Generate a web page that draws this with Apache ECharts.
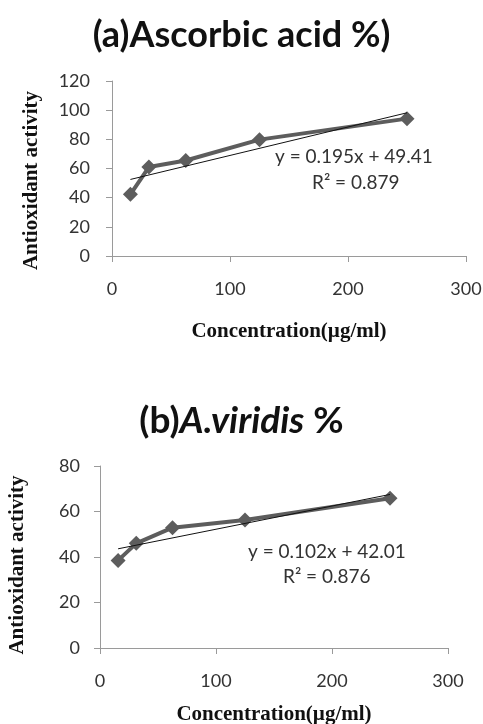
<!DOCTYPE html>
<html>
<head>
<meta charset="utf-8">
<script src="https://cdn.jsdelivr.net/npm/echarts@6/dist/echarts.min.js"></script>
<style>
  html, body { margin: 0; padding: 0; background: #fff; }
  #chart { width: 483px; height: 724px; }
</style>
</head>
<body>
<div id="chart"></div>
<script>
// concentrations (ug/ml) shared by both panels
var conc = [15.6, 31.25, 62.5, 125, 250];

// (a) ascorbic acid
var ascorbic = [42.3, 61, 65.5, 79.8, 94.2];
var trendA = [[15.6, 52.5], [250, 98.2]];

// (b) A. viridis
var viridis = [38.5, 46, 52.9, 56.3, 65.8];
var trendB = [[15.6, 43.6], [250, 67.5]];

var myChart = echarts.init(document.getElementById('chart'));

var labelFont = 'Lato';
var serif = '"Liberation Serif"';

function pairs(xs, ys) {
    return xs.map(function (x, i) { return [x, ys[i]]; });
}

function xAxisCfg(gridIndex, gap) {
    return {
        type: 'value', gridIndex: gridIndex,
        min: 0, max: 300, interval: 100,
        name: 'Concentration(µg/ml)', nameLocation: 'middle', nameGap: gap,
        nameTextStyle: { fontFamily: serif, fontWeight: 'bold', fontSize: 21, color: '#111' },
        axisLine: { lineStyle: { color: '#9a9a9a' } },
        axisTick: { show: true, length: 6, lineStyle: { color: '#9a9a9a' } },
        axisLabel: { margin: 24, fontFamily: labelFont, fontSize: 18, color: '#333' },
        splitLine: { show: false }
    };
}

function yAxisCfg(gridIndex, max, gap, margin, shift) {
    return {
        type: 'value', gridIndex: gridIndex,
        min: 0, max: max, interval: 20,
        name: 'Antioxidant activity', nameLocation: 'middle', nameGap: gap,
        nameTextStyle: {
            fontFamily: serif, fontWeight: 'bold', fontSize: 21, color: '#111',
            padding: [0, shift, 0, 0]
        },
        axisLine: { show: true, lineStyle: { color: '#9a9a9a' } },
        axisTick: { show: true, length: 6, lineStyle: { color: '#9a9a9a' } },
        axisLabel: { margin: margin, fontFamily: labelFont, fontSize: 18, color: '#333' },
        splitLine: { show: false }
    };
}

function dataSeries(idx, values) {
    return {
        type: 'line', xAxisIndex: idx, yAxisIndex: idx,
        data: pairs(conc, values),
        symbol: 'diamond', symbolSize: 15,
        lineStyle: { color: '#5d5d5d', width: 4 },
        itemStyle: { color: '#5d5d5d' },
        z: 3
    };
}

function trendSeries(idx, pts) {
    return {
        type: 'line', xAxisIndex: idx, yAxisIndex: idx,
        data: pts, symbol: 'none',
        lineStyle: { color: '#111', width: 1 },
        z: 4
    };
}

var eqStyle = { fontFamily: labelFont, fontSize: 19, fill: '#333' };

var option = {
    animation: false,
    title: [
        {
            text: '(a)Ascorbic acid %)',
            left: 'center', top: 12,
            textStyle: { fontFamily: labelFont, fontWeight: 'bold', fontSize: 36, color: '#111' }
        },
        {
            text: '{n|(b)}{i|A.viridis}{n| %}',
            left: 'center', top: 398,
            textStyle: {
                rich: {
                    n: { fontFamily: labelFont, fontWeight: 'bold', fontSize: 37, color: '#111' },
                    i: { fontFamily: labelFont, fontWeight: 'bold', fontStyle: 'italic', fontSize: 37, color: '#111' }
                }
            }
        }
    ],
    grid: [
        { left: 112, right: 17, top: 81, height: 175, outerBoundsMode: 'none' },
        { left: 100, right: 35, top: 466, height: 182, outerBoundsMode: 'none' }
    ],
    xAxis: [xAxisCfg(0, 65), xAxisCfg(1, 56)],
    yAxis: [yAxisCfg(0, 120, 70, 22, 24), yAxisCfg(1, 80, 72, 20, 16)],
    series: [
        dataSeries(0, ascorbic),
        trendSeries(0, trendA),
        dataSeries(1, viridis),
        trendSeries(1, trendB)
    ],
    graphic: [
        { type: 'text', left: 275, top: 147, style: Object.assign({ text: 'y = 0.195x + 49.41' }, eqStyle) },
        { type: 'text', left: 312, top: 173, style: Object.assign({ text: 'R² = 0.879' }, eqStyle) },
        { type: 'text', left: 248, top: 542, style: Object.assign({ text: 'y = 0.102x + 42.01' }, eqStyle) },
        { type: 'text', left: 283, top: 567, style: Object.assign({ text: 'R² = 0.876' }, eqStyle) }
    ]
};

myChart.setOption(option);
</script>
</body>
</html>
